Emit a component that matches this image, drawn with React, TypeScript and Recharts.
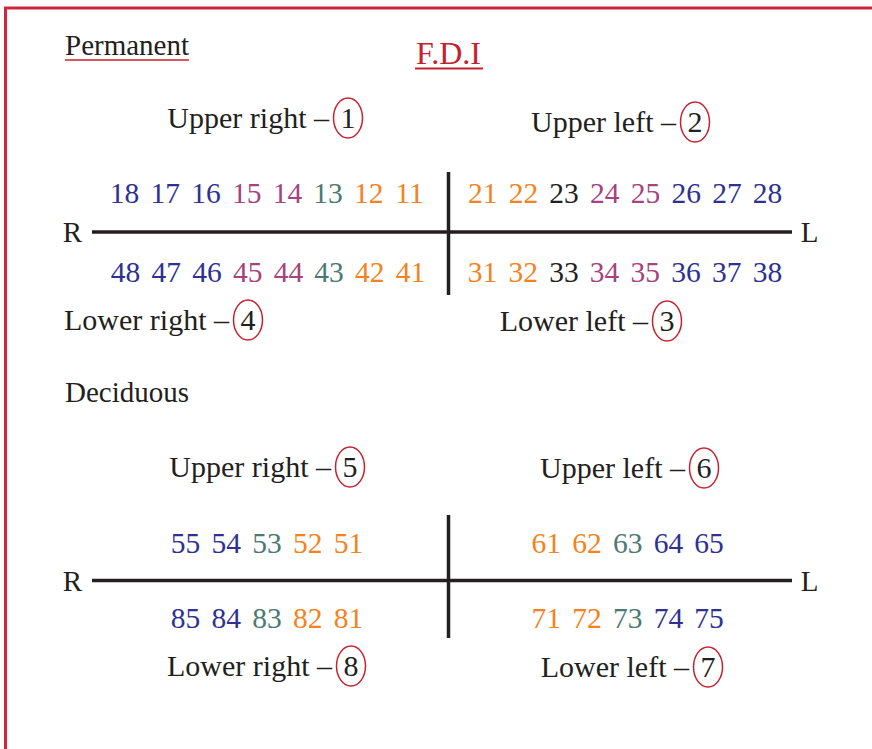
import { ReferenceLine, Scatter, ScatterChart, XAxis, YAxis } from 'recharts';

// FDI tooth numbering
const upperRight = [18, 17, 16, 15, 14, 13, 12, 11];
const upperLeft = [21, 22, 23, 24, 25, 26, 27, 28];
const lowerRight = [48, 47, 46, 45, 44, 43, 42, 41];
const lowerLeft = [31, 32, 33, 34, 35, 36, 37, 38];
const decUpperRight = [55, 54, 53, 52, 51];
const decUpperLeft = [61, 62, 63, 64, 65];
const decLowerRight = [85, 84, 83, 82, 81];
const decLowerLeft = [71, 72, 73, 74, 75];

// tooth kind by last digit (index 0 unused)
const permanentKinds = ['', 'incisor', 'incisor', 'canine', 'premolar', 'premolar', 'molar', 'molar', 'molar'];
const deciduousKinds = ['', 'incisor', 'incisor', 'canine', 'molar', 'molar'];
const blackTeeth = [23, 33];

const captionTexts = ['Upper right –', 'Upper left –', 'Lower left –', 'Lower right –', 'Upper right –', 'Upper left –', 'Lower left –', 'Lower right –'];
const captionNumbers = [1, 2, 3, 4, 5, 6, 7, 8];

const kindColors: Record<string, string> = {
  incisor: '#f58220',
  canine: '#4b7a74',
  premolar: '#a6437f',
  molar: '#2e3192',
};
const INK = '#231f20';
const RED = '#c8202f';
const FONT = '"Liberation Serif", "Times New Roman", serif';

const W = 872;
const H = 749;
const SLOT = 40.7;

// layout: first-tooth x per quadrant and text baselines
const permRow = { upper: 203, lower: 282, line: 232, vTop: 172, vBottom: 295 };
const decRow = { upper: 553, lower: 628, line: 580.5, vTop: 515, vBottom: 638 };
const MID_X = 448.5;

const captionPos: Record<number, [number, number]> = {
  1: [348, 128],
  2: [695, 132],
  3: [667, 331],
  4: [248, 330],
  5: [350, 477],
  6: [704, 478],
  7: [708, 677],
  8: [351, 676],
};

function toothPoints(list: number[], side: 'R' | 'L', start: number, y: number, kinds: string[]) {
  return list.map((n) => {
    const d = n % 10;
    const x = side === 'R' ? start - SLOT * (d - 1) : start + SLOT * (d - 1);
    const color = blackTeeth.includes(n) ? INK : kindColors[kinds[d]];
    return { x, y, label: String(n), color };
  });
}

const teethData = [
  ...toothPoints(upperRight, 'R', 409.5, permRow.upper, permanentKinds),
  ...toothPoints(upperLeft, 'L', 482.7, permRow.upper, permanentKinds),
  ...toothPoints(lowerRight, 'R', 410.5, permRow.lower, permanentKinds),
  ...toothPoints(lowerLeft, 'L', 482.5, permRow.lower, permanentKinds),
  ...toothPoints(decUpperRight, 'R', 348.4, decRow.upper, deciduousKinds),
  ...toothPoints(decUpperLeft, 'L', 546.3, decRow.upper, deciduousKinds),
  ...toothPoints(decLowerRight, 'R', 348.4, decRow.lower, deciduousKinds),
  ...toothPoints(decLowerLeft, 'L', 546.3, decRow.lower, deciduousKinds),
];

const captionData = captionNumbers.map((n, i) => ({
  x: captionPos[n][0],
  y: captionPos[n][1],
  label: captionTexts[i],
  num: n,
}));

const staticText = [
  { x: 65, y: 55, label: 'Permanent', anchor: 'start', color: INK, size: 29 },
  { x: 65, y: 402, label: 'Deciduous', anchor: 'start', color: INK, size: 29 },
  { x: MID_X, y: 64, label: 'F.D.I', anchor: 'middle', color: RED, size: 32 },
  { x: 72.5, y: 242, label: 'R', anchor: 'middle', color: INK, size: 29 },
  { x: 809.5, y: 242, label: 'L', anchor: 'middle', color: INK, size: 29 },
  { x: 72.5, y: 591, label: 'R', anchor: 'middle', color: INK, size: 29 },
  { x: 809.5, y: 591, label: 'L', anchor: 'middle', color: INK, size: 29 },
];

function ToothLabel(props: any) {
  const { cx, cy, payload } = props;
  return (
    <text x={cx} y={cy} textAnchor="middle" fill={payload.color} fontSize={29.5} fontFamily={FONT}>
      {payload.label}
    </text>
  );
}

function PlainLabel(props: any) {
  const { cx, cy, payload } = props;
  return (
    <text x={cx} y={cy} textAnchor={payload.anchor} fill={payload.color} fontSize={payload.size} fontFamily={FONT}>
      {payload.label}
    </text>
  );
}

function CaptionLabel(props: any) {
  const { cx, cy, payload } = props;
  return (
    <g>
      <text x={cx - 19} y={cy} textAnchor="end" fill={INK} fontSize={30} fontFamily={FONT}>
        {payload.label}
      </text>
      <ellipse cx={cx} cy={cy - 10} rx={14.5} ry={20} fill="none" stroke={RED} strokeWidth={1.5} />
      <text x={cx} y={cy} textAnchor="middle" fill={INK} fontSize={30} fontFamily={FONT}>
        {payload.num}
      </text>
    </g>
  );
}

function seg(x1: number, y1: number, x2: number, y2: number) {
  return [{ x: x1, y: y1 }, { x: x2, y: y2 }];
}

export default function App() {
  return (
    <div style={{ position: 'absolute', left: 0, top: 0, background: '#fff' }}>
      <ScatterChart width={W} height={H} margin={{ top: 0, right: 0, bottom: 0, left: 0 }}>
        <XAxis type="number" dataKey="x" domain={[0, W]} hide />
        <YAxis type="number" dataKey="y" domain={[0, H]} reversed hide />

        {/* frame */}
        <ReferenceLine segment={seg(4, 8, W, 8)} stroke="#d0283a" strokeWidth={3} ifOverflow="visible" />
        <ReferenceLine segment={seg(5.5, 8, 5.5, H)} stroke="#d0283a" strokeWidth={3} ifOverflow="visible" />

        {/* underlines */}
        <ReferenceLine segment={seg(65, 60, 189, 60)} stroke={RED} strokeWidth={1.5} ifOverflow="visible" />
        <ReferenceLine segment={seg(415, 68.5, 483, 68.5)} stroke={RED} strokeWidth={2} ifOverflow="visible" />

        {/* permanent cross */}
        <ReferenceLine segment={seg(92, permRow.line, 792, permRow.line)} stroke={INK} strokeWidth={3.5} ifOverflow="visible" />
        <ReferenceLine segment={seg(MID_X, permRow.vTop, MID_X, permRow.vBottom)} stroke={INK} strokeWidth={3.5} ifOverflow="visible" />

        {/* deciduous cross */}
        <ReferenceLine segment={seg(92, decRow.line, 792, decRow.line)} stroke={INK} strokeWidth={3.5} ifOverflow="visible" />
        <ReferenceLine segment={seg(MID_X, decRow.vTop, MID_X, decRow.vBottom)} stroke={INK} strokeWidth={3.5} ifOverflow="visible" />

        <Scatter data={staticText} shape={(p: any) => <PlainLabel {...p} />} isAnimationActive={false} />
        <Scatter data={teethData} shape={(p: any) => <ToothLabel {...p} />} isAnimationActive={false} />
        <Scatter data={captionData} shape={(p: any) => <CaptionLabel {...p} />} isAnimationActive={false} />
      </ScatterChart>
    </div>
  );
}
